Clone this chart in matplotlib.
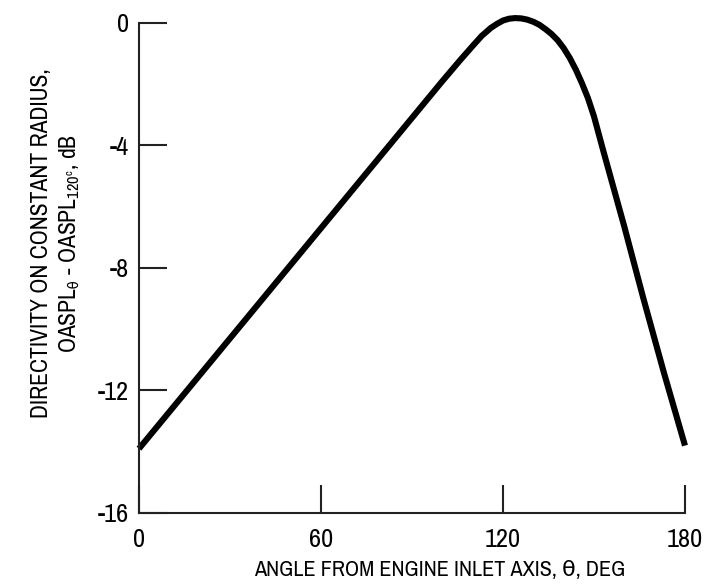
import numpy as np
import matplotlib.pyplot as plt

plt.rcParams['font.family'] = ['Archivo Narrow', 'DejaVu Sans']
plt.rcParams['mathtext.fontset'] = 'custom'
plt.rcParams['mathtext.rm'] = 'Archivo Narrow'
plt.rcParams['mathtext.it'] = 'Archivo Narrow'
plt.rcParams['mathtext.default'] = 'regular'
plt.rcParams['mathtext.fallback'] = 'stixsans'

# directivity curve
theta = [0, 30, 60, 90, 100, 106, 110, 113, 116, 118, 120, 122, 124, 126, 128,
         130, 132, 134, 136, 138, 140, 142, 144, 146, 148, 150, 153, 160,
         166.3, 173, 180]
level = [-13.9, -10.3, -6.7, -3.1, -1.9, -1.2, -0.75, -0.42, -0.16, -0.03,
         0.08, 0.14, 0.16, 0.15, 0.11, 0.04, -0.06, -0.2, -0.36, -0.56,
         -0.82, -1.14, -1.52, -1.96, -2.45, -3.05, -4.15, -6.65,
         -9.0, -11.4, -13.8]

xticks = [0, 60, 120, 180]
yticks = [0, -4, -8, -12, -16]

fig = plt.figure(figsize=(7.04, 5.85), dpi=100)
ax = fig.add_axes([0.1974, 0.1231, 0.7756, 0.8376])

ax.plot(theta, level, color='black', lw=4.4, solid_capstyle='butt',
        solid_joinstyle='round', clip_on=False)

ax.set_xlim(0, 180)
ax.set_ylim(-16, 0)
ax.set_xticks(xticks)
ax.set_yticks(yticks)
ax.set_yticklabels([str(v) for v in yticks])

for s in ['top', 'right']:
    ax.spines[s].set_visible(False)
for s in ['left', 'bottom']:
    ax.spines[s].set_linewidth(1.5)
    ax.spines[s].set_color('#222222')

ax.tick_params(direction='in', length=20, width=1.5, color='#222222',
               labelsize=19)
ax.tick_params(axis='x', pad=11)
ax.tick_params(axis='y', pad=7)

ax.set_xlabel('ANGLE FROM ENGINE INLET AXIS, θ, DEG', fontsize=16)
ax.xaxis.set_label_coords(0.55, -0.095)
ax.set_ylabel('DIRECTIVITY ON CONSTANT RADIUS,\n' +
              r'OASPL$_{θ}$ - OASPL$_{120^c}$, dB',
              fontsize=17, linespacing=1.3)
ax.yaxis.set_label_coords(-0.103, 0.55)

fig.savefig('out.png', dpi=100)
